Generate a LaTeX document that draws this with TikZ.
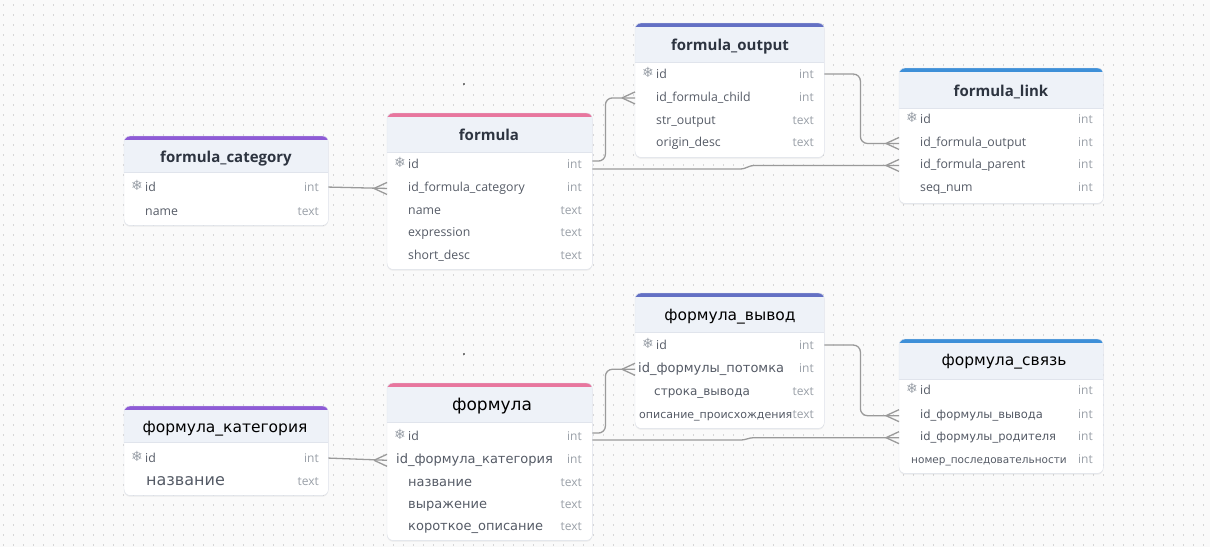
\documentclass[tikz,border=0pt]{standalone}
\usepackage{fontspec}
\setmainfont{Open Sans}
\newfontfamily\snowf{DejaVu Sans}
\newfontfamily\cyr{DejaVu Sans}
\usetikzlibrary{shadows}
\definecolor{bgc}{HTML}{FAFAFA}
\definecolor{dotc}{HTML}{D6D6D6}
\definecolor{hdr}{HTML}{EEF2F8}
\definecolor{bord}{HTML}{E0E4EC}
\definecolor{ttlc}{HTML}{2D3440}
\definecolor{nmc}{HTML}{555B66}
\definecolor{tyc}{HTML}{9AA0A8}
\definecolor{connc}{HTML}{9A9A9A}
\definecolor{cPurple}{HTML}{8E5BD6}
\definecolor{cPink}{HTML}{E8769E}
\definecolor{cIndigo}{HTML}{6370C4}
\definecolor{cBlue}{HTML}{3D8FD8}
\tikzset{
  card/.style={rectangle, rounded corners=6pt, fill=white, inner sep=0pt,
    drop shadow={opacity=0.12, shadow xshift=0pt, shadow yshift=-1.5pt}},
  ttl/.style={anchor=mid, inner sep=0pt, yshift=-2pt, text=ttlc, font=\bfseries\fontsize{15}{17}\selectfont},
  cttl/.style={anchor=mid, inner sep=0pt, yshift=-2pt, text=black, font=\cyr\fontsize{15.5}{18}\selectfont},
  nm/.style={anchor=mid west, inner sep=0pt, yshift=-2pt, text=nmc, font=\fontsize{12.3}{14}\selectfont},
  cnm/.style={anchor=mid west, inner sep=0pt, yshift=-2pt, text=nmc, font=\cyr\fontsize{#1}{14}\selectfont},
  ty/.style={anchor=mid east, inner sep=0pt, yshift=-2pt, text=tyc, font=\fontsize{12}{14}\selectfont},
  ic/.style={anchor=mid, inner sep=0pt, yshift=-1pt, text=tyc, font=\snowf\fontsize{14}{16}\selectfont},
  conn/.style={draw=connc, line width=1.3pt},
}
\newcommand\erdcard[7]{%
  \node[card, minimum width=#4, minimum height=#5, anchor=north west] (#1) at (#2,#3) {};
  \begin{scope}
    \clip[rounded corners=6pt] (#1.north west) rectangle (#1.south east);
    \fill[hdr] (#1.north west) rectangle ([yshift=-#6]#1.north east);
    \fill[#7] (#1.north west) rectangle ([yshift=-4]#1.north east);
  \end{scope}
  \draw[bord] ([yshift=-#6]#1.north west) -- ([yshift=-#6]#1.north east);
  \draw[bord, rounded corners=6pt] (#1.north west) rectangle (#1.south east);
}
\newcommand\crowfoot[1]{%
  \draw[conn] ([xshift=-13]#1) -- ([yshift=6]#1) ([xshift=-13]#1) -- ([yshift=-6]#1);}
\begin{document}
\begin{tikzpicture}[x=1pt,y=-1pt]
\useasboundingbox (0,0) rectangle (1210,547);
\fill[bgc] (0,0) rectangle (1210,547);
\foreach \yy in {5,15,...,545} {
  \draw[dotc, line width=1.3pt, dash pattern=on 1.3pt off 8.7pt] (3,\yy) -- (1210,\yy);
}
\fill[black] (464,84) circle (0.8);
\fill[black] (464,354) circle (0.8);

% ================= TOP =================
\erdcard{fc}{124}{136}{204}{89}{36}{cPurple}
\node[ttl] (fc-t) at (226,158) {formula\_category};
\node[ic] (fc-id-i) at (137,187) {❄};
\node[nm] (fc-id) at (145,187) {id};
\node[ty] (fc-id-t) at (319,187) {int};
\node[nm] (fc-name) at (145,211) {name};
\node[ty] (fc-name-t) at (319,211) {text};

\erdcard{f}{387}{113}{205}{156}{39}{cPink}
\node[ttl] (f-t) at (489,136) {formula};
\node[ic] (f-id-i) at (400,164) {❄};
\node[nm] (f-id) at (408,164) {id};
\node[ty] (f-id-t) at (582,164) {int};
\node[nm] (f-fk) at (408,187) {id\_formula\_category};
\node[ty] (f-fk-t) at (582,187) {int};
\node[nm] (f-name) at (408,210) {name};
\node[ty] (f-name-t) at (582,210) {text};
\node[nm] (f-expr) at (408,232) {expression};
\node[ty] (f-expr-t) at (582,232) {text};
\node[nm] (f-sd) at (408,255) {short\_desc};
\node[ty] (f-sd-t) at (582,255) {text};

\erdcard{fo}{635}{23}{189}{134}{39}{cIndigo}
\node[ttl] (fo-t) at (730,46) {formula\_output};
\node[ic] (fo-id-i) at (648,74) {❄};
\node[nm] (fo-id) at (656,74) {id};
\node[ty] (fo-id-t) at (814,74) {int};
\node[nm] (fo-ch) at (656,97) {id\_formula\_child};
\node[ty] (fo-ch-t) at (814,97) {int};
\node[nm] (fo-so) at (656,120) {str\_output};
\node[ty] (fo-so-t) at (814,120) {text};
\node[nm] (fo-od) at (656,142) {origin\_desc};
\node[ty] (fo-od-t) at (814,142) {text};

\erdcard{fl}{899}{68}{204}{135}{40}{cBlue}
\node[ttl] (fl-t) at (1001,92) {formula\_link};
\node[ic] (fl-id-i) at (912,119) {❄};
\node[nm] (fl-id) at (920,119) {id};
\node[ty] (fl-id-t) at (1093,119) {int};
\node[nm] (fl-fo) at (920,142) {id\_formula\_output};
\node[ty] (fl-fo-t) at (1093,142) {int};
\node[nm] (fl-par) at (920,164) {id\_formula\_parent};
\node[ty] (fl-par-t) at (1093,164) {int};
\node[nm] (fl-seq) at (920,187) {seq\_num};
\node[ty] (fl-seq-t) at (1093,187) {int};

% connectors top
\coordinate (e1) at (f.west |- f-fk);
\draw[conn] (fc.east |- fc-id) -- (e1);
\crowfoot{e1}
\coordinate (e2) at (fo.west |- fo-ch);
\draw[conn, rounded corners=7pt] ([yshift=3]f.east |- f-id) -- ++(13,0) |- (e2);
\crowfoot{e2}
\coordinate (e3) at (fl.west |- fl-fo);
\draw[conn, rounded corners=7pt] (fo.east |- fo-id) -- ++(36,0) |- (e3);
\crowfoot{e3}
\coordinate (e4) at (fl.west |- fl-par);
\draw[conn] ([yshift=-5]f.east |- f-id) -- ++(148,0)
  .. controls +(5,0) and +(-5,0) .. ([xshift=-145]e4) -- (e4);
\crowfoot{e4}

% ================= BOTTOM =================
\erdcard{bc}{124}{406}{204}{89}{36}{cPurple}
\node[cttl] (bc-t) at (225,428) {формула\_категория};
\node[ic] (bc-id-i) at (137,458) {❄};
\node[nm] (bc-id) at (145,458) {id};
\node[ty] (bc-id-t) at (319,458) {int};
\node[cnm=16] (bc-name) at (146,481) {название};
\node[ty] (bc-name-t) at (319,481) {text};

\erdcard{bf}{387}{383}{205}{157}{39}{cPink}
\node[cttl, font=\cyr\fontsize{17}{19}\selectfont] (bf-t) at (492,406) {формула};
\node[ic] (bf-id-i) at (400,436) {❄};
\node[nm] (bf-id) at (408,436) {id};
\node[ty] (bf-id-t) at (582,436) {int};
\node[cnm=13] (bf-fk) at (396,459) {id\_формула\_категория};
\node[ty] (bf-fk-t) at (582,459) {int};
\node[cnm=13] (bf-name) at (408,482) {название};
\node[ty] (bf-name-t) at (582,482) {text};
\node[cnm=13] (bf-expr) at (408,504) {выражение};
\node[ty] (bf-expr-t) at (582,504) {text};
\node[cnm=13] (bf-sd) at (408,526) {короткое\_описание};
\node[ty] (bf-sd-t) at (582,526) {text};

\erdcard{bo}{635}{293}{189}{135}{39}{cIndigo}
\node[cttl] (bo-t) at (730,316) {формула\_вывод};
\node[ic] (bo-id-i) at (648,345) {❄};
\node[nm] (bo-id) at (656,345) {id};
\node[ty] (bo-id-t) at (814,345) {int};
\node[cnm=13] (bo-ch) at (638,368) {id\_формулы\_потомка};
\node[ty] (bo-ch-t) at (814,368) {int};
\node[cnm=12] (bo-so) at (654,391) {строка\_вывода};
\node[ty] (bo-so-t) at (814,391) {text};
\node[cnm=11] (bo-od) at (639,414) {описание\_происхождения};
\node[ty] (bo-od-t) at (814,414) {text};

\erdcard{bl}{899}{339}{204}{134}{40}{cBlue}
\node[cttl] (bl-t) at (1004,361) {формула\_связь};
\node[ic] (bl-id-i) at (912,390) {❄};
\node[nm] (bl-id) at (920,390) {id};
\node[ty] (bl-id-t) at (1093,390) {int};
\node[cnm=11.5] (bl-fo) at (920,414) {id\_формулы\_вывода};
\node[ty] (bl-fo-t) at (1093,414) {int};
\node[cnm=11.5] (bl-par) at (920,436) {id\_формулы\_родителя};
\node[ty] (bl-par-t) at (1093,436) {int};
\node[cnm=10.5] (bl-seq) at (911,459) {номер\_последовательности};
\node[ty] (bl-seq-t) at (1093,459) {int};

% connectors bottom
\coordinate (g1) at (bf.west |- bf-fk);
\draw[conn] (bc.east |- bc-id) -- (g1);
\crowfoot{g1}
\coordinate (g2) at (bo.west |- bo-ch);
\draw[conn, rounded corners=7pt] ([yshift=3]bf.east |- bf-id) -- ++(13,0) |- (g2);
\crowfoot{g2}
\coordinate (g3) at (bl.west |- bl-fo);
\draw[conn, rounded corners=7pt] (bo.east |- bo-id) -- ++(36,0) |- (g3);
\crowfoot{g3}
\coordinate (g4) at (bl.west |- bl-par);
\draw[conn] ([yshift=-4]bf.east |- bf-id) -- ++(148,0)
  .. controls +(5,0) and +(-5,0) .. ([xshift=-145]g4) -- (g4);
\crowfoot{g4}
\end{tikzpicture}
\end{document}
